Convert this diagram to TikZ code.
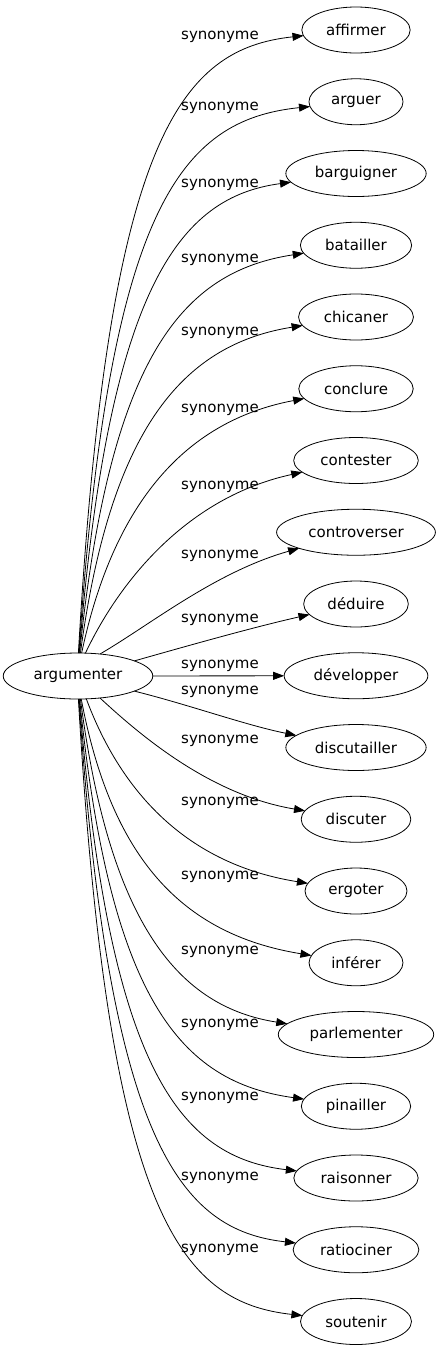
\documentclass[tikz,border=0pt]{standalone}
\usepackage{fontspec}
\setmainfont{DejaVu Sans}
\usetikzlibrary{arrows.meta,positioning,shapes.geometric}

\begin{document}
\begin{tikzpicture}[x=1pt, y=1pt,
      node distance=25.75pt,
      word/.style={draw, ellipse, line width=0.8pt, outer sep=0pt,
                   inner xsep=8.5pt, minimum height=46pt,
                   font=\fontsize{15}{18}\selectfont},
      lbl/.style={inner sep=0pt, font=\fontsize{15}{18}\selectfont},
      syn/.style={-{Triangle[length=11pt, width=8pt]}, line width=0.8pt}]
    \useasboundingbox (0,0) rectangle (440,-1355);
    \node[word] (arg) at (78,-676) {argumenter};
    \node[word] (affirmer) at (356,-30) {affirmer};
    \node[word, below=of affirmer] (arguer) {arguer};
    \node[word, below=of arguer] (barguigner) {barguigner};
    \node[word, below=of barguigner] (batailler) {batailler};
    \node[word, below=of batailler] (chicaner) {chicaner};
    \node[word, below=of chicaner] (conclure) {conclure};
    \node[word, below=of conclure] (contester) {contester};
    \node[word, below=of contester] (controverser) {controverser};
    \node[word, below=of controverser] (deduire) {déduire};
    \node[word, below=of deduire] (developper) {développer};
    \node[word, below=of developper] (discutailler) {discutailler};
    \node[word, below=of discutailler] (discuter) {discuter};
    \node[word, below=of discuter] (ergoter) {ergoter};
    \node[word, below=of ergoter] (inferer) {inférer};
    \node[word, below=of inferer] (parlementer) {parlementer};
    \node[word, below=of parlementer] (pinailler) {pinailler};
    \node[word, below=of pinailler] (raisonner) {raisonner};
    \node[word, below=of raisonner] (ratiociner) {ratiociner};
    \node[word, below=of ratiociner] (soutenir) {soutenir};
    % edge labels
    \node[lbl] (s1) at (220,-37) {synonyme};
    \node[lbl] (s2) at (220,-108) {synonyme};
    \node[lbl] (s3) at (220,-185) {synonyme};
    \node[lbl] (s4) at (220,-260) {synonyme};
    \node[lbl] (s5) at (220,-333) {synonyme};
    \node[lbl] (s6) at (220,-410) {synonyme};
    \node[lbl] (s7) at (220,-487) {synonyme};
    \node[lbl] (s8) at (220,-556) {synonyme};
    \node[lbl] (s9) at (220,-620) {synonyme};
    \node[lbl] (s10) at (220,-666) {synonyme};
    \node[lbl] (s11) at (220,-692) {synonyme};
    \node[lbl] (s12) at (220,-741) {synonyme};
    \node[lbl] (s13) at (220,-803) {synonyme};
    \node[lbl] (s14) at (220,-877) {synonyme};
    \node[lbl] (s15) at (220,-952) {synonyme};
    \node[lbl] (s16) at (220,-1025) {synonyme};
    \node[lbl] (s17) at (220,-1098) {synonyme};
    \node[lbl] (s18) at (220,-1178) {synonyme};
    \node[lbl] (s19) at (220,-1250) {synonyme};
    % edges
    \draw[syn] (arg.89) .. controls (108,-137) and (180,-49) .. (affirmer);
    \draw[syn] (arg.88) .. controls (109,-208) and (180,-120) .. (arguer);
    \draw[syn] (arg.87) .. controls (109,-285) and (180,-197) .. (barguigner);
    \draw[syn] (arg.86) .. controls (110,-360) and (180,-272) .. (batailler);
    \draw[syn] (arg.84) .. controls (110,-433) and (180,-345) .. (chicaner);
    \draw[syn] (arg.81) .. controls (112,-510) and (180,-422) .. (conclure);
    \draw[syn] (arg.72) .. controls (120,-580) and (188,-497) .. (contester);
    \draw[syn] (arg.45) .. controls (150,-625) and (215,-572) .. (controverser);
    \draw[syn] (arg.15) .. controls (180,-648) and (250,-628) .. (deduire);
    \draw[syn] (arg) -- (developper);
    \draw[syn] (arg.-15) .. controls (190,-705) and (245,-725) .. (discutailler);
    \draw[syn] (arg.-45) .. controls (140,-735) and (210,-795) .. (discuter);
    \draw[syn] (arg.-70) .. controls (118,-784) and (180,-863) .. (ergoter);
    \draw[syn] (arg.-82) .. controls (111,-856) and (180,-934) .. (inferer);
    \draw[syn] (arg.-84) .. controls (110,-927) and (180,-1007) .. (parlementer);
    \draw[syn] (arg.-86) .. controls (110,-999) and (180,-1082) .. (pinailler);
    \draw[syn] (arg.-87) .. controls (109,-1071) and (180,-1157) .. (raisonner);
    \draw[syn] (arg.-88) .. controls (109,-1143) and (180,-1230) .. (ratiociner);
    \draw[syn] (arg.-89) .. controls (108,-1215) and (180,-1302) .. (soutenir);
  \end{tikzpicture}
\end{document}
